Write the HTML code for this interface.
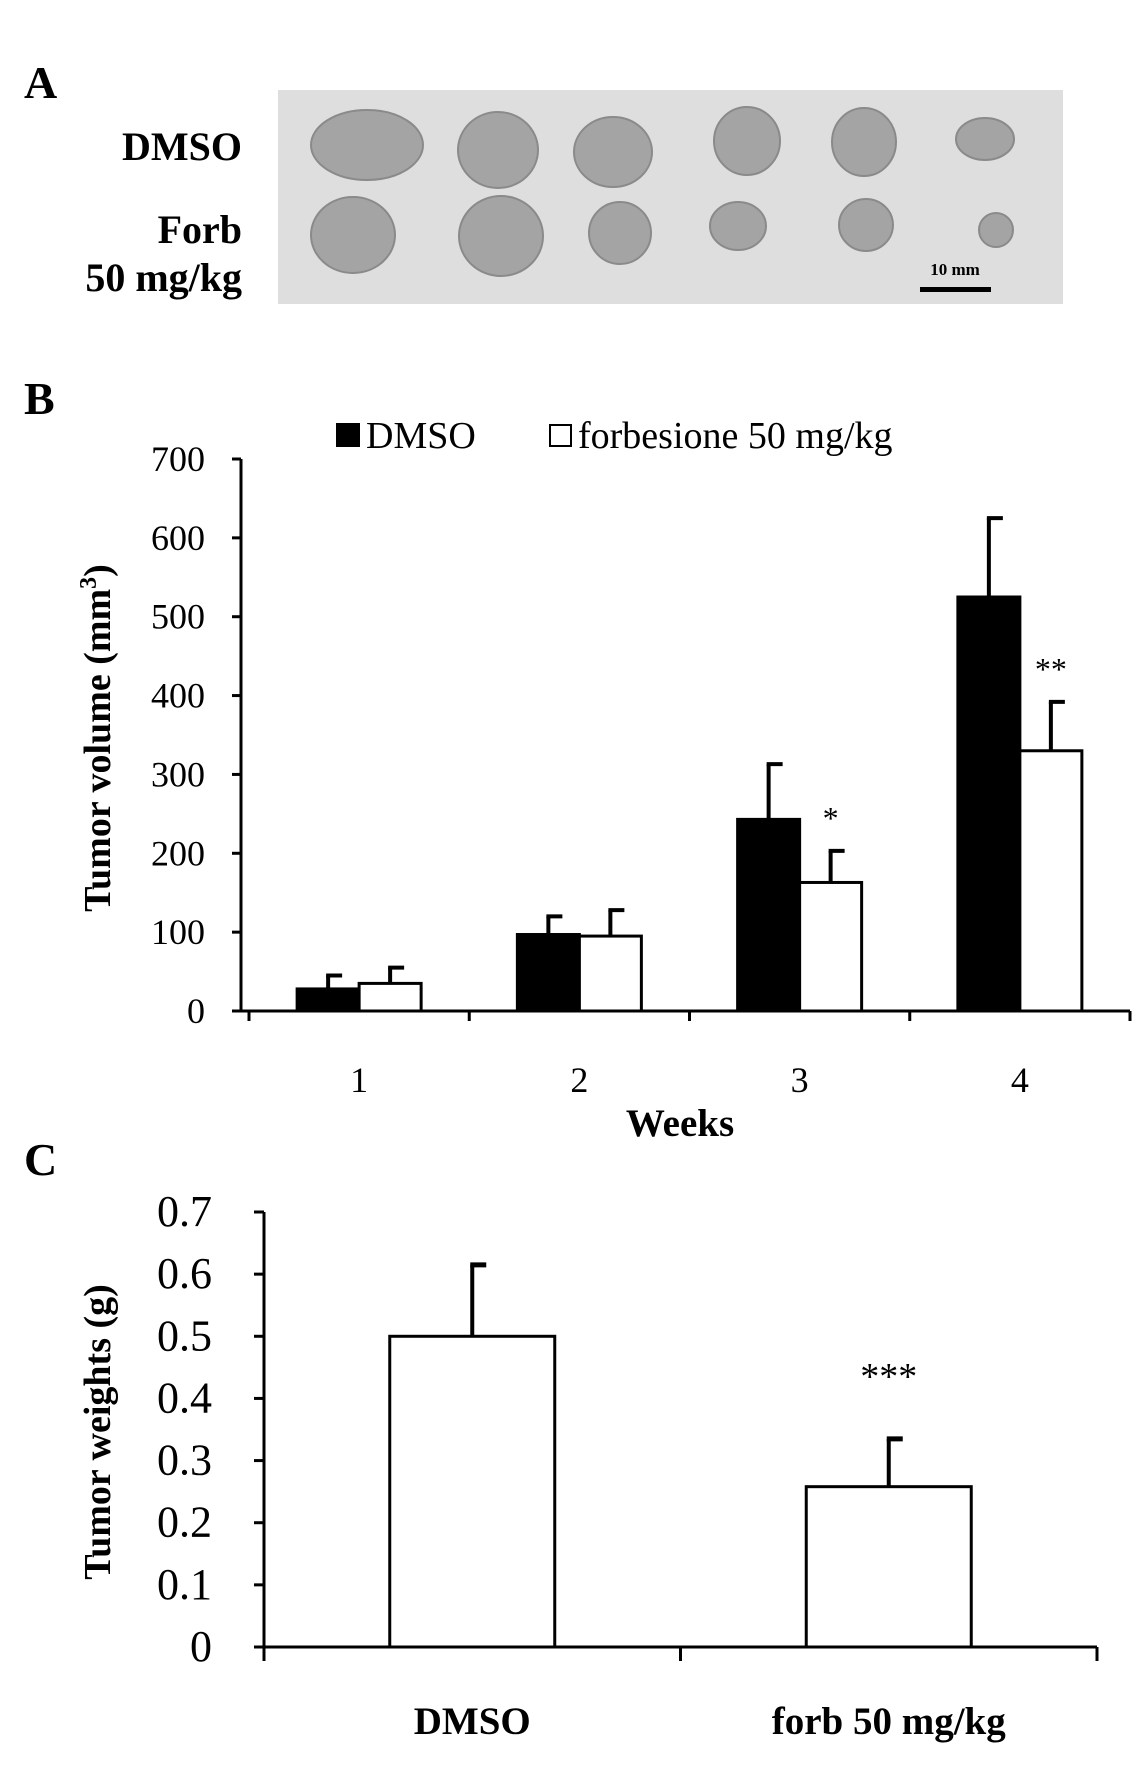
<!DOCTYPE html>
<html><head><meta charset="utf-8"><style>
body{margin:0;background:#fff;}
svg{display:block;font-family:"Liberation Serif",serif;}
</style></head><body>
<svg width="1146" height="1779" viewBox="0 0 1146 1779">
<!-- Panel A -->
<text x="24" y="98" font-size="46" font-weight="bold">A</text>
<rect x="278" y="90" width="785" height="214" fill="#dedede"/>
<g font-weight="bold" font-size="40" text-anchor="end">
<text x="242" y="160">DMSO</text>
<text x="242" y="243">Forb</text>
<text x="242" y="291">50 mg/kg</text>
</g>
<g id="tumors" fill="#a4a4a4" stroke="#8a8a8a" stroke-width="2"></g>
<text x="955" y="275" font-size="17" font-weight="bold" text-anchor="middle">10 mm</text>
<rect x="920" y="287" width="71" height="5" fill="#000"/>

<!-- Panel B -->
<text x="24" y="414" font-size="46" font-weight="bold">B</text>
<rect x="336" y="423" width="24" height="24" fill="#000"/>
<text x="366" y="448" font-size="38">DMSO</text>
<rect x="550" y="425" width="21" height="21" fill="#fff" stroke="#000" stroke-width="2"/>
<text x="578" y="448" font-size="38">forbesione 50 mg/kg</text>
<g id="chartB"></g>
<text transform="translate(110,738) rotate(-90)" font-size="38" font-weight="bold" text-anchor="middle">Tumor volume (mm<tspan font-size="24" dy="-14">3</tspan><tspan dy="14">)</tspan></text>
<text x="680" y="1136" font-size="39" font-weight="bold" text-anchor="middle">Weeks</text>

<!-- Panel C -->
<text x="24" y="1175" font-size="46" font-weight="bold">C</text>
<g id="chartC"></g>
<text transform="translate(110,1432) rotate(-90)" font-size="38" font-weight="bold" text-anchor="middle">Tumor weights (g)</text>
</svg>
<script>
// Panel B data
const weeks = ["1","2","3","4"];
const dmsoVol = [28, 97, 243, 525];
const dmsoErr = [17, 23, 70, 100];
const forbVol = [35, 95, 163, 330];
const forbErr = [20, 33, 40, 62];
const sigB = ["", "", "*", "**"];
const ticksB = [0,100,200,300,400,500,600,700];
// Panel C data
const groupsC = ["DMSO","forb 50 mg/kg"];
const weightC = [0.5, 0.258];
const weightErr = [0.115, 0.077];
const sigC = ["", "***"];
const ticksC = ["0","0.1","0.2","0.3","0.4","0.5","0.6","0.7"];

const NS="http://www.w3.org/2000/svg";
function mk(parent,tag,attrs){const e=document.createElementNS(NS,tag);for(const k in attrs)e.setAttribute(k,attrs[k]);parent.appendChild(e);return e;}

// tumors (photo illustration)
const tg=document.getElementById('tumors');
const tum=[[367,145,56,35],[498,150,40,38],[613,152,39,35],[747,141,33,34],[864,142,32,34],[985,139,29,21],
[353,235,42,38],[501,236,42,40],[620,233,31,31],[738,226,28,24],[866,225,27,26],[996,230,17,17]];
tum.forEach((t,i)=>{const e=mk(tg,'ellipse',{cx:t[0],cy:t[1],rx:t[2],ry:t[3]});

});

// chart B
const gB=document.getElementById('chartB');
const bx0=241,bx1=1130,by0=1011,by1=459;
const yB=v=>by0-(v/700)*(by0-by1);
const catStart=249;
const catW=(bx1-catStart)/weeks.length;
const xB=i=>catStart+i*catW;
ticksB.forEach(t=>{
 const l=mk(gB,'line',{x1:bx0-9,x2:bx0,y1:yB(t),y2:yB(t),stroke:'#000','stroke-width':3});
 
 
 const tx=mk(gB,'text',{x:bx0-36,y:yB(t)+12,'font-size':36,'text-anchor':'end'});tx.textContent=t;
 
 
});
const bw=62;
weeks.forEach((w,i)=>{
 const c=xB(i)+catW/2;
 [[dmsoVol,dmsoErr,'#000',c-bw,'bar-dmso'],[forbVol,forbErr,'#fff',c,'bar-forb']].forEach(s=>{
  const v=s[0][i],e=s[1][i],x=s[3];
  const ex=x+bw/2;
  const el=mk(gB,'line',{x1:ex,x2:ex,y1:yB(v),y2:yB(v+e),stroke:'#000','stroke-width':4});
  
  
  const cap=mk(gB,'line',{x1:ex-2,x2:ex+14,y1:yB(v+e),y2:yB(v+e),stroke:'#000','stroke-width':4});
  
  
  const r=mk(gB,'rect',{x:x,y:yB(v),width:bw,height:by0-yB(v),fill:s[2],stroke:'#000','stroke-width':3});
  
  
 });
 if(sigB[i]){const s=mk(gB,'text',{x:c+bw/2,y:yB(forbVol[i]+forbErr[i])-22,'font-size':32,'text-anchor':'middle'});s.textContent=sigB[i];
  
  }
 const t=mk(gB,'line',{x1:xB(i),x2:xB(i),y1:by0,y2:by0+10,stroke:'#000','stroke-width':3});
 
 
 const lb=mk(gB,'text',{x:c,y:1092,'font-size':36,'text-anchor':'middle'});lb.textContent=w;
 
 
});
const lt=mk(gB,'line',{x1:bx1,x2:bx1,y1:by0,y2:by0+10,stroke:'#000','stroke-width':3});


const axB=mk(gB,'path',{d:`M${bx0},${by1} V${by0} H${bx1}`,fill:'none',stroke:'#000','stroke-width':3});



// chart C
const gC=document.getElementById('chartC');
const cx0=264,cx1=1097,cy0=1647,cy1=1212;
const yC=v=>cy0-(v/0.7)*(cy0-cy1);
const cW=(cx1-cx0)/groupsC.length;
ticksC.forEach(t=>{
 const l=mk(gC,'line',{x1:cx0-10,x2:cx0,y1:yC(+t),y2:yC(+t),stroke:'#000','stroke-width':3});
 
 
 const tx=mk(gC,'text',{x:212,y:yC(+t)+14,'font-size':44,'text-anchor':'end'});tx.textContent=t;
 
 
});
const cbw=165;
groupsC.forEach((g,i)=>{
 const c=cx0+cW*i+cW/2, v=weightC[i], e=weightErr[i];
 const el=mk(gC,'line',{x1:c,x2:c,y1:yC(v),y2:yC(v+e),stroke:'#000','stroke-width':4});
 
 
 const cap=mk(gC,'line',{x1:c-2,x2:c+14,y1:yC(v+e),y2:yC(v+e),stroke:'#000','stroke-width':5});
 
 
 const r=mk(gC,'rect',{x:c-cbw/2,y:yC(v),width:cbw,height:cy0-yC(v),fill:'#fff',stroke:'#000','stroke-width':3});
 
 
 if(sigC[i]){const s=mk(gC,'text',{x:c,y:yC(v+e)-50,'font-size':38,'text-anchor':'middle'});s.textContent=sigC[i];
  
  }
 const lb=mk(gC,'text',{x:c,y:1734,'font-size':39,'font-weight':'bold','text-anchor':'middle'});lb.textContent=g;
 
 
});
[0,1,2].forEach(i=>{const t=mk(gC,'line',{x1:cx0+cW*i,x2:cx0+cW*i,y1:cy0,y2:cy0+14,stroke:'#000','stroke-width':3});
 
 });
const axC=mk(gC,'path',{d:`M${cx0},${cy1} V${cy0} H${cx1}`,fill:'none',stroke:'#000','stroke-width':3});


</script>
</body></html>
